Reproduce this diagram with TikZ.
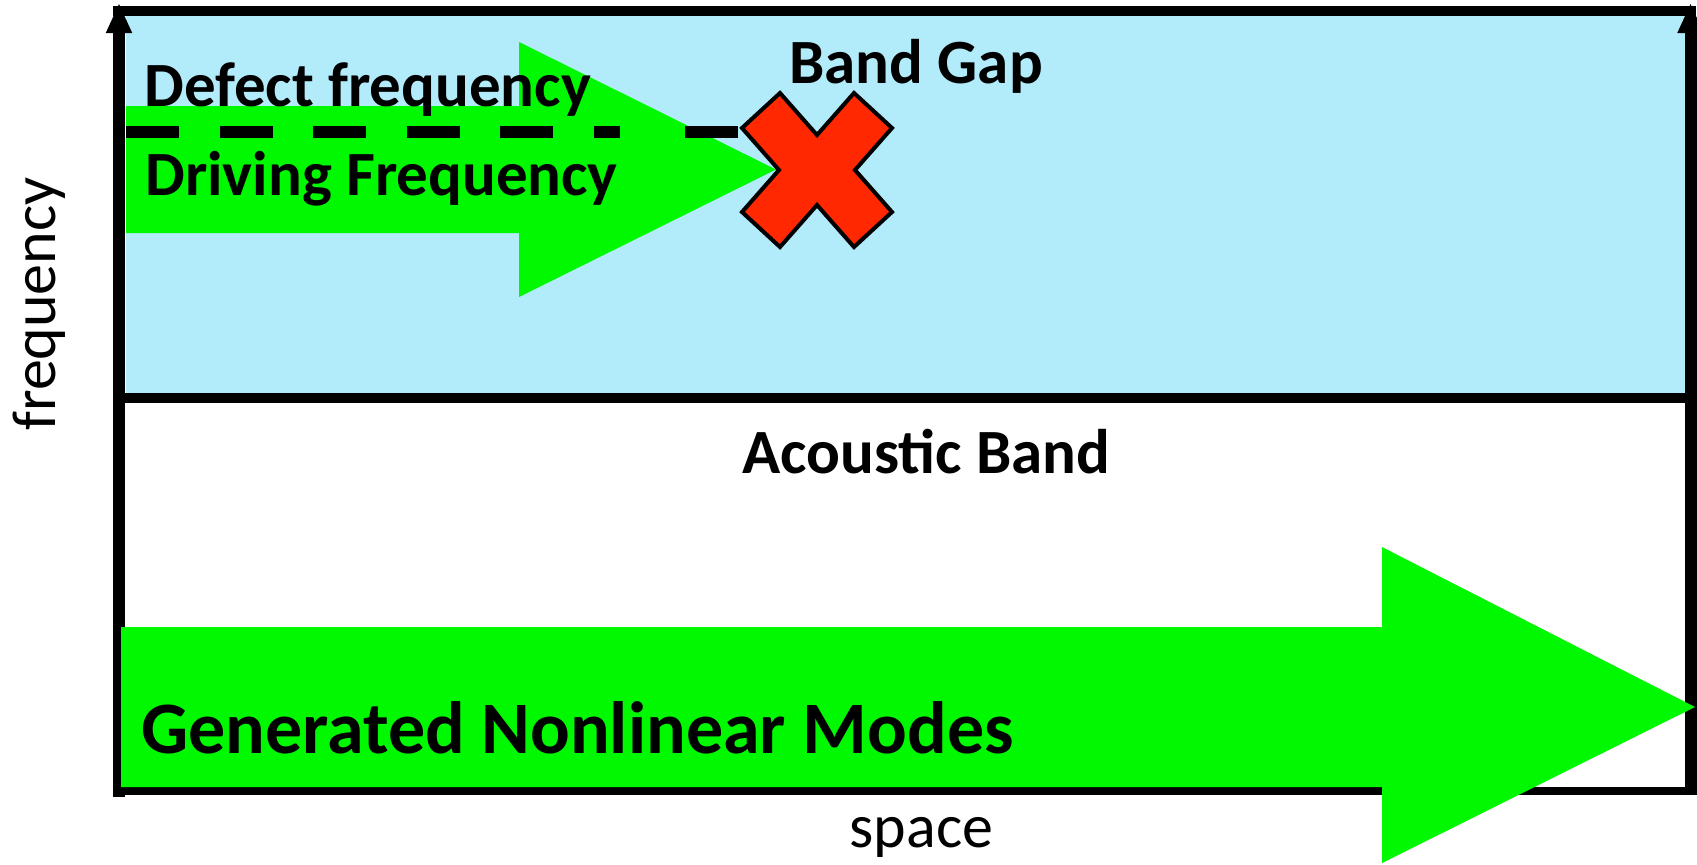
\documentclass[tikz,border=0pt]{standalone}
\usepackage{fontspec}
\setmainfont{Carlito}
\usepackage{tikz}
\usetikzlibrary{arrows.meta}

\definecolor{gapblue}{RGB}{178,235,250}
\definecolor{modegreen}{RGB}{0,248,0}
\definecolor{crossred}{RGB}{255,40,0}

\begin{document}
\begin{tikzpicture}[x=0.5pt,y=-0.5pt]
        \useasboundingbox (0,0) rectangle (1697,864);
        \begin{scope}[
            >={Triangle[length=15pt,width=12pt]},
            every node/.style={inner sep=0pt,font=\fontsize{31.5pt}{36pt}\selectfont\bfseries},
            axis/.style={line width=6pt},
            frame/.style={line width=5pt},
            wave/.style={fill=modegreen},
            defect/.style={line width=6pt}
            ]
            % band gap region
            \fill[gapblue] (126,16) rectangle (1685,393);
            \coordinate (O) at (119,797);
            \coordinate (F) at (119,3);
            \coordinate (R) at (1690.5,795);
            \coordinate (S) at (1690.5,3);
            \path [->] (O) edge[axis] (F);
            \path [->] (R) edge[axis] (S);
            \draw[frame] (113,10.5) -- (1696,10.5);
            \draw[frame] (113,398) -- (1696,398);
            \draw[line width=4pt] (113,791) -- (1693,791);
            % driving wave and generated modes
            \fill[wave] (126,106) -- (519,106) -- (519,42) -- (776,169.5)
                -- (519,297) -- (519,233) -- (126,233) -- cycle;
            \fill[wave] (121,627) -- (1382,627) -- (1382,547) -- (1695,707)
                -- (1382,863) -- (1382,787) -- (121,787) -- cycle;
            % defect level, blocked
            \coordinate (cross) at (817,170);
            \coordinate (D1) at (126,132);
            \coordinate (D2) at (620,132);
            \coordinate (D3) at (685,132);
            \coordinate (D4) at (738,132);
            \draw[defect,dash pattern=on 26.5pt off 20.25pt] (D1) -- (D2);
            \draw[defect] (D3) -- (D4);
            \draw[fill=crossred,line width=2pt,shift={(cross)}]
                (-75,-42) -- (-37,-77) -- (0,-35) -- (37,-77) -- (75,-42) -- (38,0)
                -- (75,42) -- (37,77) -- (0,35) -- (-37,77) -- (-75,42) -- (-38,0) -- cycle;
            \node[anchor=base west] (defectlbl) at (144,106) {Defect frequency};
            \node[anchor=base west] (drivelbl) at (145,195) {Driving Frequency};
            \node[anchor=base west] (gaplbl) at (789,83) {Band Gap};
            \node[anchor=base west] (bandlbl) at (742,473) {Acoustic Band};
            \node[anchor=base west,font=\fontsize{37pt}{42pt}\selectfont\bfseries] (modelbl) at (141,753) {Generated Nonlinear Modes};
            \node[anchor=base,rotate=90,font=\fontsize{31pt}{36pt}\selectfont] (ylbl) at (55,304) {frequency};
            \node[anchor=base,font=\fontsize{31pt}{36pt}\selectfont] (xlbl) at (921.5,847) {space};
        \end{scope}
    \end{tikzpicture}
\end{document}
